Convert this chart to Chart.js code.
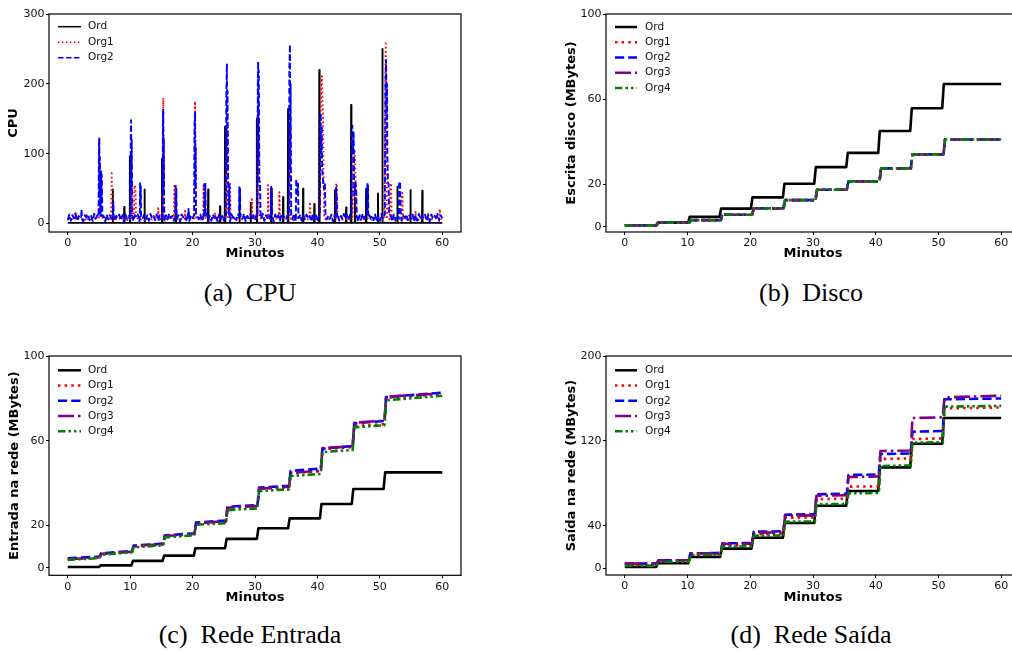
<!DOCTYPE html>
<html><head><meta charset="utf-8">
<script src="https://cdn.jsdelivr.net/npm/chart.js@4/dist/chart.umd.min.js"></script>
<style>
html,body{margin:0;padding:0;background:#fff;}
#wrap{position:absolute;left:0;top:0;width:1012px;height:652px;overflow:hidden;background:#fff;}
canvas{position:absolute;}
.cap{position:absolute;width:300px;text-align:center;font-family:"Liberation Serif","Times New Roman",serif;font-size:26px;line-height:26px;white-space:nowrap;color:#000;}
</style></head>
<body>
<div id="wrap">
<canvas id="cA" width="470" height="275" style="left:0px;top:0px"></canvas>
<canvas id="cB" width="490" height="275" style="left:540px;top:0px"></canvas>
<canvas id="cC" width="470" height="275" style="left:0px;top:340px"></canvas>
<canvas id="cD" width="490" height="275" style="left:540px;top:340px"></canvas>
<div class="cap" style="left:100px;top:280px">(a)&ensp;CPU</div>
<div class="cap" style="left:661px;top:280px">(b)&ensp;Disco</div>
<div class="cap" style="left:100px;top:622px">(c)&ensp;Rede Entrada</div>
<div class="cap" style="left:661px;top:622px">(d)&ensp;Rede Saída</div>
</div>
<script>
// ---------------- DATA ----------------
const minuteTicks = [0,10,20,30,40,50,60];
const seriesNames = ['Ord','Org1','Org2','Org3','Org4'];
const seriesColors = ['#000000','#ff0000','#0000ff','#800080','#008000'];

const cpuTicks = [0,100,200,300];
const discoTicks = [0,20,60,100];
const entradaTicks = [0,20,60,100];
const saidaTicks = [0,40,120,200];

// CPU baselines (values at a fixed time step)
const cpuOrdBaseStep = 60;
const cpuOrdBase = [1,1];
const cpuOrg1BaseStep = 0.5;
const cpuOrg1Base = [
7,5,9,6,8,4,9,7,5,8,6,9,5,7,8,4,9,6,7,5,
8,6,9,5,7,4,8,6,9,7,5,8,6,9,4,7,8,5,9,6,
7,5,8,6,9,4,7,8,5,9,6,7,4,8,6,9,5,7,8,6,
9,5,7,4,8,6,9,7,5,8,6,9,4,7,8,5,9,6,7,5,
8,6,9,5,7,4,8,6,9,7,5,8,6,9,4,7,8,5,9,6,
7,5,8,6,9,4,7,8,5,9,6,7,4,8,6,9,5,7,8,6,
7];
const cpuOrg2BaseStep = 0.25;
const cpuOrg2Base = [
5,13,4,12,8,14,4,11,7,13,3,12,9,13,5,11,4,14,7,12,
4,13,8,11,3,13,6,12,7,14,4,11,8,13,5,12,3,13,7,11,
5,14,4,12,8,13,3,11,7,13,6,12,4,14,8,11,5,13,4,12,
7,13,3,12,6,14,8,11,4,13,7,12,3,13,9,11,5,14,4,12,
8,13,4,11,6,13,3,12,7,14,5,11,4,13,8,12,3,13,6,11,
4,14,7,12,3,13,8,11,5,13,4,12,7,14,3,11,8,13,5,12,
5,13,3,11,7,14,4,12,8,13,6,11,3,13,7,12,4,14,8,11,
7,12,4,13,6,14,3,11,8,13,4,12,6,13,7,11,3,14,5,12,
3,13,8,12,4,14,6,11,7,13,3,12,8,13,4,11,6,14,7,12,
5,13,4,11,8,13,3,12,6,14,7,11,4,13,8,12,5,13,3,11,
4,14,7,12,6,13,8,11,3,13,5,12,7,14,4,11,8,13,5,12,
7,13,3,12,4,14,6,11,8,13,4,12,3,13,7,11,5,14,4,12,
8];

// CPU peaks: groups of [minute, value]
const cpuOrdPeaks = [
[[7.15,1],[7.2,49],[7.25,1]],
[[9.0,1],[9.05,24],[9.1,1]],
[[9.9,1],[9.95,96],[10.0,1]],
[[12.25,1],[12.3,49],[12.35,1]],
[[15.05,1],[15.1,93],[15.15,1]],
[[17.25,1],[17.3,45],[17.35,1]],
[[22.45,1],[22.5,49],[22.55,1]],
[[24.35,1],[24.4,25],[24.45,1]],
[[25.15,1],[25.2,139],[25.25,1]],
[[27.45,1],[27.5,47],[27.55,1]],
[[29.25,1],[29.3,30],[29.35,1]],
[[30.25,1],[30.3,150],[30.35,1]],
[[32.55,1],[32.6,50],[32.65,1]],
[[34.45,1],[34.5,38],[34.55,1]],
[[35.25,1],[35.3,164],[35.35,1]],
[[37.65,1],[37.7,50],[37.75,1]],
[[39.45,1],[39.5,28],[39.55,1]],
[[40.25,1],[40.3,220],[40.35,1]],
[[42.75,1],[42.8,48],[42.85,1]],
[[44.55,1],[44.6,23],[44.65,1]],
[[45.35,1],[45.4,170],[45.45,1]],
[[45.95,1],[46.0,37],[46.05,1]],
[[47.75,1],[47.8,50],[47.85,1]],
[[49.65,1],[49.7,43],[49.75,1]],
[[50.35,1],[50.4,250],[50.45,1]],
[[52.75,1],[52.8,53],[52.85,1]],
[[54.85,1],[54.9,48],[54.95,1]],
[[56.75,1],[56.8,47],[56.85,1]]
];
const cpuOrg1Peaks = [
[[1.2,7],[1.25,17],[1.35,7]],
[[3.0,7],[3.05,12],[3.15,7]],
[[4.95,8],[5.05,122],[5.15,50],[5.25,8]],
[[6.95,7],[7.05,72],[7.15,8]],
[[10.1,8],[10.2,60],[10.3,8]],
[[10.6,8],[10.7,55],[10.85,50],[10.95,8]],
[[14.45,7],[14.5,22],[14.6,7]],
[[15.2,8],[15.3,180],[15.4,60],[15.5,8]],
[[17.0,7],[17.1,54],[17.2,8]],
[[18.75,7],[18.8,18],[18.9,7]],
[[20.3,8],[20.4,175],[20.5,60],[20.6,8]],
[[21.7,7],[21.75,55],[21.85,8]],
[[23.55,7],[23.6,16],[23.7,7]],
[[25.3,8],[25.45,140],[25.55,100],[25.65,8]],
[[25.95,7],[26.0,57],[26.1,8]],
[[29.45,7],[29.5,35],[29.6,7]],
[[30.3,8],[30.45,165],[30.6,120],[30.7,8]],
[[32.05,7],[32.1,55],[32.2,8]],
[[33.85,7],[33.9,45],[34.0,7]],
[[35.45,8],[35.55,140],[35.65,60],[35.75,8]],
[[38.75,7],[38.8,31],[38.9,7]],
[[40.3,8],[40.5,120],[40.6,200],[40.7,211],[40.8,180],[40.9,150],[41.0,60],[41.1,8]],
[[42.95,7],[43.0,58],[43.1,55],[43.2,8]],
[[45.6,8],[45.8,100],[46.0,105],[46.1,60],[46.2,8]],
[[50.7,8],[50.85,200],[50.95,258],[51.05,150],[51.15,8]],
[[51.6,8],[51.7,58],[51.8,55],[51.9,8]],
[[53.55,7],[53.6,44],[53.7,7]],
[[55.65,7],[55.7,18],[55.8,7]],
[[57.65,7],[57.7,14],[57.8,7]],
[[59.55,7],[59.6,21],[59.7,7]]
];
const cpuOrg2Peaks = [
[[2.15,9],[2.2,20],[2.3,8]],
[[4.95,10],[5.0,110],[5.05,122],[5.1,40],[5.15,95],[5.25,12],[5.35,75],[5.4,30],[5.45,70],[5.55,10]],
[[7.25,10],[7.3,31],[7.4,9]],
[[10.05,12],[10.1,130],[10.15,148],[10.2,50],[10.25,120],[10.35,12]],
[[11.55,10],[11.6,59],[11.65,25],[11.7,55],[11.75,10]],
[[15.2,12],[15.25,150],[15.3,163],[15.35,50],[15.4,120],[15.45,12]],
[[17.25,10],[17.3,54],[17.35,20],[17.4,50],[17.45,10]],
[[19.3,8],[19.35,21],[19.45,10]],
[[20.25,12],[20.3,140],[20.4,160],[20.45,50],[20.5,110],[20.55,12]],
[[21.85,10],[21.9,57],[21.95,59],[22.0,20],[22.05,57],[22.1,10]],
[[25.35,12],[25.4,180],[25.5,229],[25.55,80],[25.6,190],[25.7,60],[25.8,12]],
[[25.85,12],[25.9,57],[25.95,12]],
[[27.45,10],[27.5,54],[27.55,20],[27.6,50],[27.65,10]],
[[30.4,12],[30.45,200],[30.5,232],[30.55,90],[30.6,220],[30.7,60],[30.8,60],[30.9,12]],
[[32.55,10],[32.6,53],[32.65,20],[32.7,50],[32.75,10]],
[[35.45,12],[35.5,220],[35.6,256],[35.65,80],[35.7,200],[35.8,12]],
[[36.55,10],[36.6,64],[36.75,40],[36.9,57],[36.95,10]],
[[40.4,14],[40.45,130],[40.5,158],[40.6,100],[40.7,140],[40.75,80],[40.9,60],[41.05,50],[41.2,58],[41.3,12]],
[[42.95,10],[43.0,53],[43.1,40],[43.15,10]],
[[45.45,12],[45.5,120],[45.6,140],[45.7,100],[45.8,130],[45.9,40],[46.1,59],[46.2,50],[46.3,12]],
[[47.95,10],[48.0,59],[48.05,20],[48.1,55],[48.15,10]],
[[50.8,14],[50.9,200],[51.0,234],[51.1,150],[51.15,200],[51.2,100],[51.3,60],[51.4,55],[51.5,12]],
[[53.05,10],[53.1,60],[53.25,59],[53.35,12]],
[[59.0,8],[59.05,13],[59.15,9]]
];

// Disco (Escrita disco, MBytes): [minute, value]
const discoOrd = [[0,0.7],[5.0,0.7],[5.25,1.9],[10.1,1.9],[10.35,4.7],[15.1,4.7],[15.35,8.5],[20.1,8.5],[20.35,13.8],[25.2,13.8],[25.45,20.2],[30.2,20.2],[30.45,28],[35.3,28],[35.55,34.7],[40.4,34.7],[40.65,45],[45.5,45],[45.75,55.7],[50.6,55.7],[50.85,67.1],[60,67.1]];
const discoOrg = [[0,0.7],[5.1,0.7],[5.35,1.9],[10.3,1.9],[10.55,3.1],[15.3,3.1],[15.55,5.6],[20.3,5.6],[20.55,8.6],[25.3,8.6],[25.55,12.5],[30.4,12.5],[30.65,17.4],[35.4,17.4],[35.65,21.3],[40.6,21.3],[40.85,27.4],[45.6,27.4],[45.85,34],[50.8,34],[51.05,41],[60,41]];
const discoOrg1 = discoOrg, discoOrg2 = discoOrg, discoOrg3 = discoOrg, discoOrg4 = discoOrg;

// Entrada na rede (MBytes)
const entradaOrd = [[0,0.3],[5.0,0.3],[5.25,1.1],[10.2,1.1],[10.45,3.2],[15.2,3.2],[15.45,5.7],[20.2,5.7],[20.45,9.2],[25.2,9.2],[25.45,13.6],[30.3,13.6],[30.55,18.6],[35.3,18.6],[35.55,23.3],[40.4,23.3],[40.65,30.1],[45.5,30.1],[45.75,37.2],[50.6,37.2],[50.85,45],[60,45]];
const entradaOrg1 = [[0,4.0],[5.1,4.9],[5.35,6.4],[10.3,7.5],[10.55,10.0],[15.3,11.0],[15.55,14.9],[20.3,15.8],[20.55,20.9],[25.35,21.8],[25.6,28.3],[30.4,29.0],[30.65,37.2],[35.45,38.0],[35.7,44.6],[40.55,45.6],[40.8,56.0],[45.65,57.0],[45.9,67.0],[50.75,67.8],[51.0,80.2],[60,82.0]];
const entradaOrg2 = [[0,4.4],[5.1,5.2],[5.35,6.8],[10.3,7.9],[10.55,10.4],[15.3,11.4],[15.55,15.3],[20.3,16.2],[20.55,21.3],[25.35,22.3],[25.6,28.8],[30.4,29.6],[30.65,37.8],[35.45,38.7],[35.7,45.7],[40.55,46.9],[40.8,56.2],[45.65,57.5],[45.9,68.2],[50.75,69.3],[51.0,80.6],[60,82.7]];
const entradaOrg3 = [[0,4.0],[5.1,4.9],[5.35,6.5],[10.3,7.6],[10.55,10.2],[15.3,11.2],[15.55,15.0],[20.3,15.9],[20.55,21.0],[25.35,22.0],[25.6,28.3],[30.4,29.2],[30.65,37.3],[35.45,38.2],[35.7,44.8],[40.55,45.8],[40.8,56.5],[45.65,57.3],[45.9,68.5],[50.75,69.5],[51.0,80.8],[60,82.3]];
const entradaOrg4 = [[0,3.7],[5.1,4.5],[5.35,6.1],[10.3,7.3],[10.55,9.6],[15.3,10.6],[15.55,14.3],[20.3,15.3],[20.55,20.3],[25.35,21.0],[25.6,27.2],[30.4,28.0],[30.65,36.2],[35.45,37.0],[35.7,43.3],[40.55,44.3],[40.8,54.6],[45.65,55.6],[45.9,66.3],[50.75,67.3],[51.0,79.1],[60,81.2]];

// Saída na rede (MBytes)
const saidaOrd = [[0,1.2],[5.0,1.2],[5.25,4.7],[10.1,4.7],[10.35,10.6],[15.2,10.6],[15.45,18.5],[20.2,18.5],[20.45,28.8],[25.2,28.8],[25.45,42.7],[30.2,42.7],[30.45,59],[35.3,59],[35.55,72.8],[40.4,72.8],[40.65,95.1],[45.5,95.1],[45.75,117.4],[50.6,117.4],[50.85,141.6],[60,141.6]];
const saidaOrg1 = [[0,3.5],[5.1,3.5],[5.35,6.5],[10.2,6.5],[10.45,13],[15.3,13.2],[15.55,21.5],[20.3,21.7],[20.55,32],[25.3,32.3],[25.55,47.6],[30.3,48],[30.55,65.2],[35.4,65.6],[35.65,76.9],[40.5,77.3],[40.75,103],[45.6,103.5],[45.85,121.8],[50.7,122.3],[50.95,150.7],[60,151.5]];
const saidaOrg2 = [[0,4.4],[5.1,4.4],[5.35,7.5],[10.2,7.6],[10.45,14.1],[15.3,14.4],[15.55,23.5],[20.3,23.8],[20.55,34.5],[25.3,34.9],[25.55,50.5],[30.3,50.9],[30.55,69.7],[35.4,70.2],[35.65,87.9],[40.5,88.4],[40.75,107.7],[45.6,108.2],[45.85,128.7],[50.7,129.3],[50.95,159.2],[60,160]];
const saidaOrg3 = [[0,4.4],[5.1,4.4],[5.35,7.5],[10.2,7.6],[10.45,14],[15.3,14.3],[15.55,23],[20.3,23.3],[20.55,33.5],[25.3,33.9],[25.55,49.5],[30.3,49.9],[30.55,68.3],[35.4,68.8],[35.65,86],[40.5,86.5],[40.75,110.5],[45.6,111],[45.85,141.6],[50.7,142.2],[50.95,161],[60,162.6]];
const saidaOrg4 = [[0,2.5],[5.1,2.5],[5.35,6.2],[10.2,6.3],[10.45,12.5],[15.3,12.7],[15.55,20.4],[20.3,20.6],[20.55,30.7],[25.3,31],[25.55,43.9],[30.3,44.2],[30.55,60.3],[35.4,60.7],[35.65,70.6],[40.5,71],[40.75,96.4],[45.6,96.9],[45.85,118.3],[50.7,118.8],[50.95,152.3],[60,153]];

// ---------------- BUILD ----------------
function cpuSeries(base, step, peaks){
  const ranges = peaks.map(g => [g[0][0], g[g.length-1][0]]);
  const pts = [];
  base.forEach((v,i) => {
    const t = i*step;
    if (!ranges.some(r => t >= r[0] && t <= r[1])) pts.push({x:t, y:v});
  });
  peaks.forEach(g => g.forEach(p => pts.push({x:p[0], y:p[1]})));
  pts.sort((a,b) => a.x - b.x);
  return pts;
}
const toXY = arr => arr.map(p => ({x:p[0], y:p[1]}));

function dashFor(i, lw){
  return [[], [lw*1, lw*1.65], [lw*3.7, lw*1.6], [lw*6.4, lw*1.6, lw, lw*1.6], [lw*3, lw*1.2, lw, lw*1.2, lw, lw*1.2]][i];
}

Chart.defaults.font.family = "'DejaVu Sans', sans-serif";
Chart.defaults.color = '#000';

function makePanel(id, G, seriesList, yMin, yMax, yTicks, yTitle){
  const lw = G.lw;
  const n = seriesList.length;
  const datasets = seriesList.map((pts, i) => ({
    label: seriesNames[i], data: pts,
    borderColor: seriesColors[i], backgroundColor: seriesColors[i],
    borderWidth: lw, borderDash: dashFor(i, G.dlw), borderCapStyle: 'butt', borderJoinStyle: 'round',
    pointRadius: 0, pointHoverRadius: 0, tension: 0, fill: false, order: n - i
  }));
  const lineH = 13 * 1.2;
  const decor = {
    id: 'decor_' + id,
    afterDraw(chart){
      const ctx = chart.ctx, a = chart.chartArea;
      ctx.save();
      ctx.strokeStyle = '#000'; ctx.lineWidth = 1.2; ctx.setLineDash([]);
      ctx.strokeRect(a.left, a.top, a.right - a.left, a.bottom - a.top);
      for (let i = 0; i < n; i++){
        const y = G.ly0 + i * G.ldy;
        ctx.beginPath();
        ctx.setLineDash(dashFor(i, G.llw));
        ctx.lineCap = 'butt';
        ctx.strokeStyle = seriesColors[i]; ctx.lineWidth = G.llw;
        ctx.moveTo(G.lx1, y); ctx.lineTo(G.lx2, y); ctx.stroke();
        ctx.setLineDash([]);
        ctx.fillStyle = '#111';
        ctx.font = "10.5px 'DejaVu Sans'";
        ctx.textBaseline = 'middle'; ctx.textAlign = 'left';
        ctx.fillText(seriesNames[i], G.tx, y);
      }
      ctx.restore();
    }
  };
  new Chart(document.getElementById(id), {
    type: 'line',
    data: { datasets },
    options: {
      responsive: false, animation: false, events: [],
      layout: { padding: { left: 0, top: G.T, right: G.w - G.R, bottom: 0 } },
      plugins: { legend: { display: false }, tooltip: { enabled: false } },
      scales: {
        x: {
          type: 'linear', min: -3, max: 63,
          afterBuildTicks: s => { s.ticks = minuteTicks.map(v => ({ value: v })); },
          afterFit: s => { s.height = G.h - G.B; },
          ticks: { autoSkip: false, maxRotation: 0, minRotation: 0, padding: 2, color: '#111', font: { size: 11 }, callback: v => String(v) },
          grid: { display: true, drawOnChartArea: false, drawTicks: true, tickLength: 3, color: '#000', tickWidth: 1 },
          border: { display: false },
          title: { display: true, text: 'Minutos', color: '#000', font: { size: 13, weight: 'bold' }, padding: { top: 0, bottom: G.h - G.xty - lineH / 2 } }
        },
        y: {
          type: 'linear', min: yMin, max: yMax,
          afterBuildTicks: s => { s.ticks = yTicks.map(v => ({ value: v })); },
          afterFit: s => { s.width = G.L; },
          ticks: { autoSkip: false, padding: 1.5, color: '#111', font: { size: 11 }, callback: v => String(v) },
          grid: { display: true, drawOnChartArea: false, drawTicks: true, tickLength: 3, color: '#000', tickWidth: 1 },
          border: { display: false },
          title: { display: true, text: yTitle, color: '#000', font: { size: 13, weight: 'bold' }, padding: { top: G.ytx - lineH / 2, bottom: 0 } }
        }
      }
    },
    plugins: [decor]
  });
}

const GA = {w:470, h:275, L:49, T:14, R:461, B:232, lw:1.9, dlw:1.6, llw:1.5, ytx:14, xty:254, lx1:58, lx2:81, tx:88, ly0:26.7, ldy:15.5};
const GB = {w:490, h:275, L:66, T:14, R:480, B:232, lw:2.6, dlw:2.5, llw:2.5, ytx:32, xty:254, lx1:75, lx2:97, tx:105, ly0:27, ldy:15.25};
const GC = {w:470, h:275, L:49, T:16, R:461, B:235.3, lw:2.6, dlw:2.5, llw:2.5, ytx:15, xty:258, lx1:58, lx2:81, tx:88, ly0:30.3, ldy:15.25};
const GD = {w:490, h:275, L:66, T:16, R:480, B:235, lw:2.6, dlw:2.5, llw:2.5, ytx:32, xty:258, lx1:75, lx2:97, tx:105, ly0:30.3, ldy:15.25};

makePanel('cA', GA, [
  cpuSeries(cpuOrdBase, cpuOrdBaseStep, cpuOrdPeaks),
  cpuSeries(cpuOrg1Base, cpuOrg1BaseStep, cpuOrg1Peaks),
  cpuSeries(cpuOrg2Base, cpuOrg2BaseStep, cpuOrg2Peaks)
], -12, 300, cpuTicks, 'CPU');

makePanel('cB', GB, [toXY(discoOrd), toXY(discoOrg1), toXY(discoOrg2), toXY(discoOrg3), toXY(discoOrg4)], -2.5, 100, discoTicks, 'Escrita disco (MBytes)');

makePanel('cC', GC, [toXY(entradaOrd), toXY(entradaOrg1), toXY(entradaOrg2), toXY(entradaOrg3), toXY(entradaOrg4)], -3.6, 100, entradaTicks, 'Entrada na rede (MBytes)');

makePanel('cD', GD, [toXY(saidaOrd), toXY(saidaOrg1), toXY(saidaOrg2), toXY(saidaOrg3), toXY(saidaOrg4)], -6.3, 200, saidaTicks, 'Saída na rede (MBytes)');
</script>
</body></html>
